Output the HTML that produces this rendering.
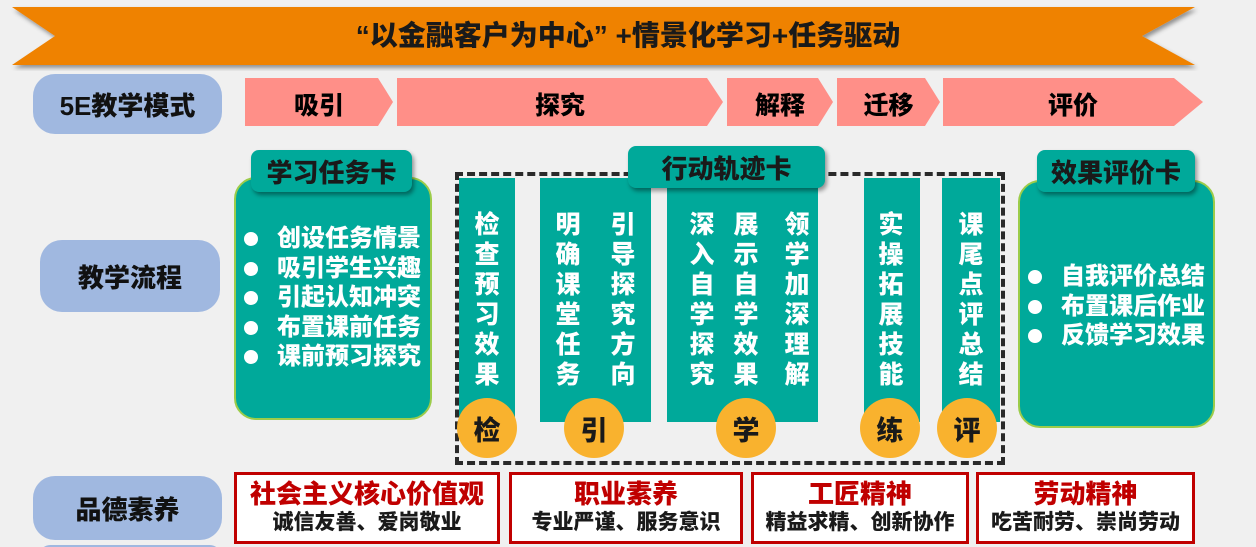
<!DOCTYPE html>
<html><head><meta charset="utf-8"><style>
*{margin:0;padding:0;box-sizing:border-box}
html{width:1256px;height:547px;overflow:hidden}
body{width:1256px;height:547px;background:#f0f0f0;position:relative;overflow:hidden;font-family:"Liberation Sans","Noto Sans CJK SC",sans-serif;font-weight:900}
.a{position:absolute}
.lbl{background:#a0b8e0;border-radius:22px;color:#111;font-size:26px;display:flex;align-items:center;justify-content:center}
.tt{background:#00a99a;border-radius:8px;color:#1a1a1a;font-size:26px;display:flex;align-items:center;justify-content:center;box-shadow:2px 3px 4px rgba(0,0,0,.4);z-index:3}
.card{background:#00a99a;border:2px solid #9ccc4a;border-radius:22px}
.li{color:#fff;font-size:24px;line-height:29.5px}
.li div{position:relative;padding-left:43px}
.li div:before{content:"";position:absolute;left:10px;top:8px;width:14px;height:14px;border-radius:50%;background:#fff}
.col{background:#00a99a}
.vt{position:absolute;color:#fff;font-size:25px;line-height:30px;width:26px;text-align:center;top:32px}
.fl{position:absolute;width:54px;height:54px;border-radius:50%;background:#f9b22e;color:#1a1a1a;font-size:27px;display:flex;align-items:center;justify-content:center;box-shadow:0 0 0 3px #f9b22e;z-index:2}
.bx{background:#fff;border:3px solid #c00000;text-align:center}
.bx .t{color:#c00000;font-size:26px;line-height:32px;margin-top:3px}
.bx .s{color:#1a1a1a;font-size:21px;line-height:26px}
</style></head><body>
<svg class="a" style="left:0;top:0" width="1256" height="140">
<defs><filter id="sh"><feDropShadow dx="2" dy="3" stdDeviation="2" flood-opacity=".4"/></filter></defs>
<polygon points="12,7 1195,7 1142,36 1195,65 12,65 55,36" fill="#ef8200" filter="url(#sh)"/>
<g fill="#ff8f88">
<polygon points="245,78 378,78 393,102 378,126 245,126"/>
<polygon points="397,78 707,78 723,102 707,126 397,126"/>
<polygon points="727,78 818,78 833,102 818,126 727,126"/>
<polygon points="837,78 925,78 940,102 925,126 837,126"/>
<polygon points="943,78 1174,78 1203,102 1174,126 943,126"/>
</g>
</svg>
<div class="a" style="left:0;top:19px;width:1256px;text-align:center;font-size:28px;color:#1a1a1a;line-height:34px">“以金融客户为中心” +情景化学习+任务驱动</div>
<div class="a" style="left:245px;top:86px;width:148px;text-align:center;font-size:25px">吸引</div>
<div class="a" style="left:397px;top:86px;width:326px;text-align:center;font-size:25px">探究</div>
<div class="a" style="left:727px;top:86px;width:106px;text-align:center;font-size:25px">解释</div>
<div class="a" style="left:837px;top:86px;width:103px;text-align:center;font-size:25px">迁移</div>
<div class="a" style="left:943px;top:86px;width:260px;text-align:center;font-size:25px">评价</div>

<div class="a lbl" style="left:33px;top:74px;width:189px;height:60px">5E教学模式</div>
<div class="a lbl" style="left:40px;top:240px;width:180px;height:72px">教学流程</div>
<div class="a lbl" style="left:33px;top:476px;width:189px;height:64px">品德素养</div>
<div class="a lbl" style="left:40px;top:545px;width:180px;height:20px"></div>

<div class="a card" style="left:234px;top:177px;width:198px;height:243px"></div>
<div class="a tt" style="left:251px;top:150px;width:161px;height:42px">学习任务卡</div>
<div class="a li" style="left:234px;top:224px"><div>创设任务情景</div><div>吸引学生兴趣</div><div>引起认知冲突</div><div>布置课前任务</div><div>课前预习探究</div></div>

<div class="a card" style="left:1018px;top:180px;width:197px;height:248px"></div>
<div class="a tt" style="left:1037px;top:150px;width:158px;height:42px">效果评价卡</div>
<div class="a li" style="left:1018px;top:262px"><div>自我评价总结</div><div>布置课后作业</div><div>反馈学习效果</div></div>

<div class="a" style="left:455px;top:172px;width:550px;height:293px;border:4px dashed #2a2a2a"></div>
<div class="a tt" style="left:628px;top:146px;width:197px;height:42px">行动轨迹卡</div>

<div class="a col" style="left:459px;top:178px;width:56px;height:244px"><div class="vt" style="left:15px">检查预习效果</div></div>
<div class="a col" style="left:540px;top:178px;width:111px;height:244px"><div class="vt" style="left:15px">明确课堂任务</div><div class="vt" style="left:70px">引导探究方向</div></div>
<div class="a col" style="left:667px;top:178px;width:151px;height:244px"><div class="vt" style="left:22px">深入自学探究</div><div class="vt" style="left:66px">展示自学效果</div><div class="vt" style="left:117px">领学加深理解</div></div>
<div class="a col" style="left:864px;top:178px;width:56px;height:244px"><div class="vt" style="left:14px">实操拓展技能</div></div>
<div class="a col" style="left:942px;top:178px;width:58px;height:244px"><div class="vt" style="left:16px">课尾点评总结</div></div>

<div class="fl" style="left:460px;top:401px">检</div>
<div class="fl" style="left:567px;top:401px">引</div>
<div class="fl" style="left:719px;top:401px">学</div>
<div class="fl" style="left:863px;top:401px">练</div>
<div class="fl" style="left:940px;top:401px">评</div>

<div class="a bx" style="left:234px;top:472px;width:266px;height:72px"><div class="t">社会主义核心价值观</div><div class="s">诚信友善、爱岗敬业</div></div>
<div class="a bx" style="left:509px;top:472px;width:234px;height:72px"><div class="t">职业素养</div><div class="s">专业严谨、服务意识</div></div>
<div class="a bx" style="left:751px;top:472px;width:218px;height:72px"><div class="t">工匠精神</div><div class="s">精益求精、创新协作</div></div>
<div class="a bx" style="left:976px;top:472px;width:219px;height:72px"><div class="t">劳动精神</div><div class="s">吃苦耐劳、崇尚劳动</div></div>
</body></html>
